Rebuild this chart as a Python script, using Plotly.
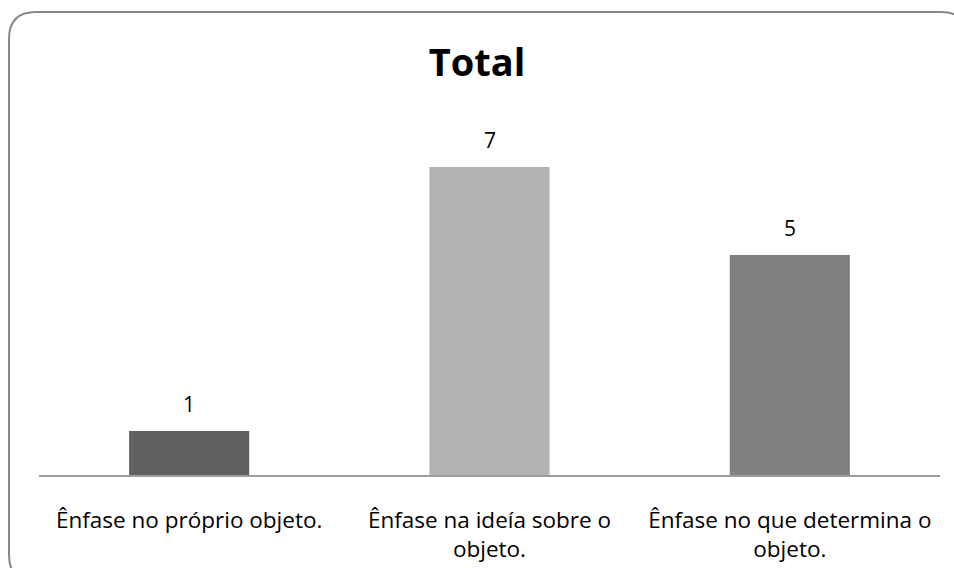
import plotly.graph_objects as go

categories = [
    "Ênfase no próprio objeto.",
    "Ênfase na ideía sobre o<br>objeto.",
    "Ênfase no que determina o<br>objeto.",
]
values = [1, 7, 5]
bar_colors = ["#616161", "#b3b3b3", "#808080"]

W, H = 954, 568
ML, MR, MT, MB = 39, 14, 123, 93
PW, PH = W - ML - MR, H - MT - MB
FONT = "Open Sans"


def to_paper(px, py):
    return (px - ML) / PW, (H - MB - py) / PH


def rounded_rect(x0, y0, x1, y1, r):
    def P(px, py):
        x, y = to_paper(px, py)
        return f"{x:.5f},{y:.5f}"
    return (
        f"M {P(x0 + r, y0)} L {P(x1 - r, y0)} Q {P(x1, y0)} {P(x1, y0 + r)} "
        f"L {P(x1, y1 - r)} Q {P(x1, y1)} {P(x1 - r, y1)} "
        f"L {P(x0 + r, y1)} Q {P(x0, y1)} {P(x0, y1 - r)} "
        f"L {P(x0, y0 + r)} Q {P(x0, y0)} {P(x0 + r, y0)} Z"
    )


fig = go.Figure(
    go.Bar(
        x=categories,
        y=values,
        marker=dict(color=bar_colors, line=dict(width=0)),
        width=0.4,
        hoverinfo="skip",
    )
)

for cat, val in zip(categories, values):
    fig.add_annotation(
        x=cat, y=val, xref="x", yref="y",
        text=str(val), showarrow=False,
        yanchor="middle", yshift=27,
        font=dict(family=FONT, size=21, color="#000000"),
    )

fig.add_shape(
    type="path", xref="paper", yref="paper",
    path=rounded_rect(9, 12, 968, 582, 27),
    line=dict(color="#878787", width=2),
    fillcolor="rgba(0,0,0,0)",
    layer="above",
)

fig.update_layout(
    width=W, height=H,
    margin=dict(l=ML, r=MR, t=MT, b=MB, autoexpand=False),
    paper_bgcolor="white",
    plot_bgcolor="white",
    showlegend=False,
    title=dict(
        text="<b>Total</b>", x=0.5, xanchor="center",
        y=1 - 63 / H, yanchor="middle",
        font=dict(family=FONT, size=38, color="#000000"),
    ),
    xaxis=dict(
        showline=True, linecolor="#9c9c9c", linewidth=2,
        showgrid=False, ticks="", ticklabelstandoff=24,
        tickfont=dict(family=FONT, size=22.5, color="#000000"),
        automargin=False, fixedrange=True,
    ),
    yaxis=dict(
        range=[0, 8], visible=False, showgrid=False, zeroline=False,
        automargin=False, fixedrange=True,
    ),
)

fig.write_html("out.html")
